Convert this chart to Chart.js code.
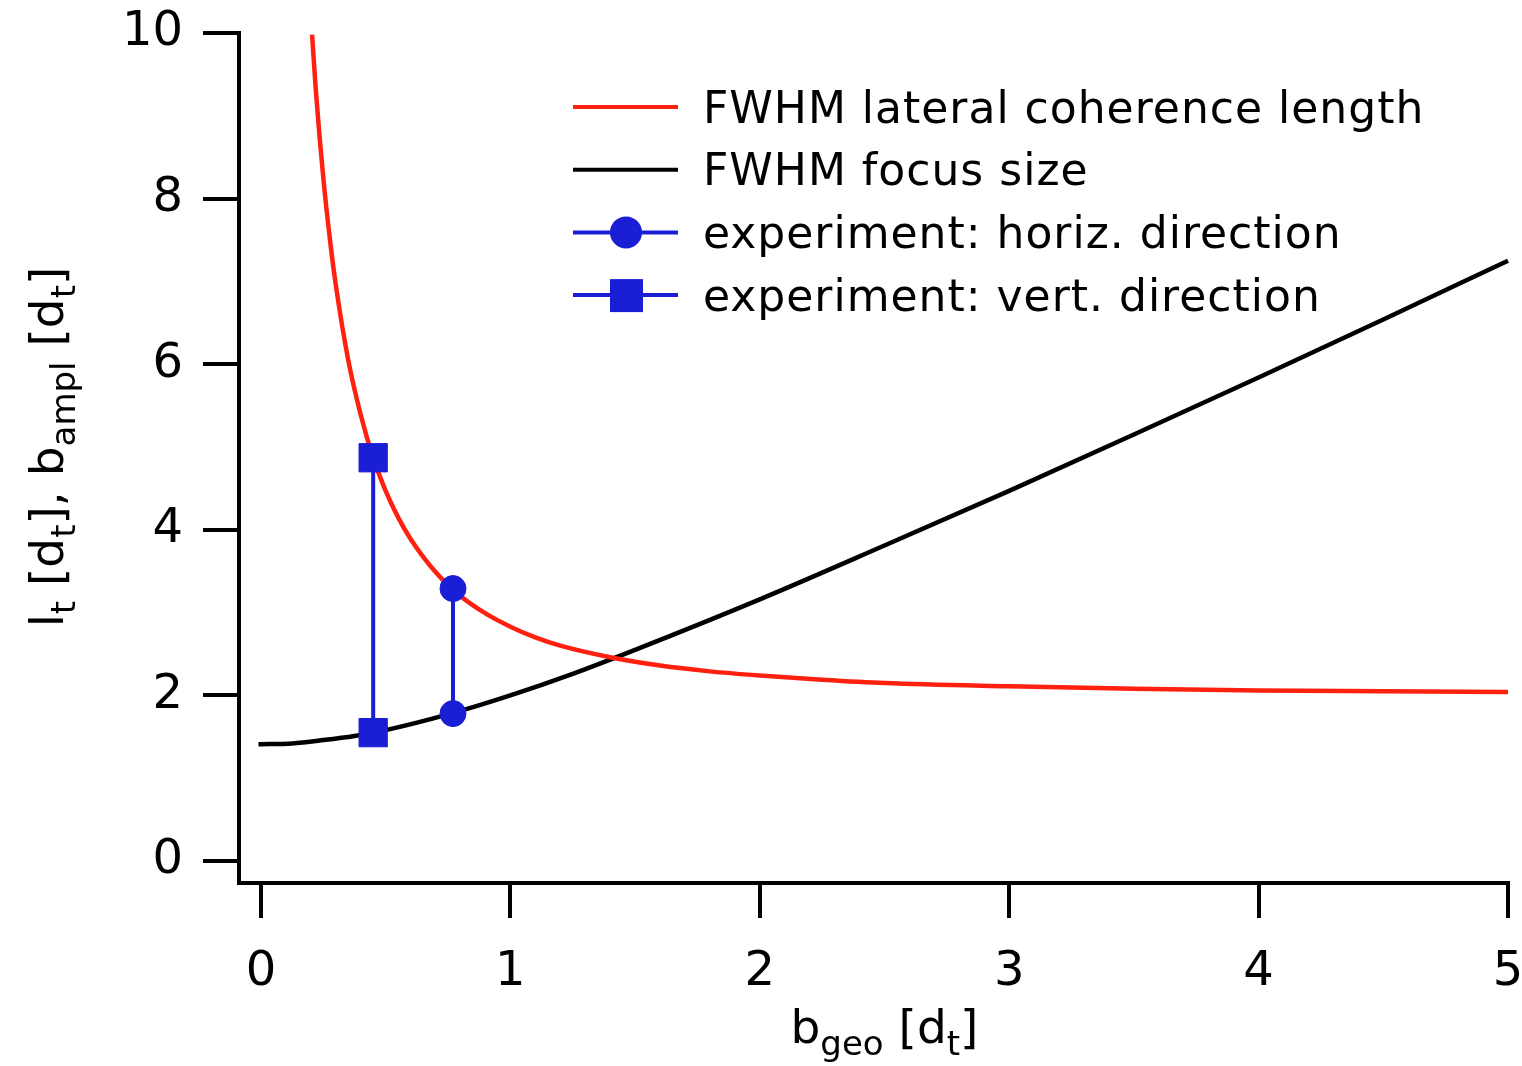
<!DOCTYPE html>
<html>
<head>
<meta charset="utf-8">
<script src="https://cdn.jsdelivr.net/npm/chart.js@4.4.1/dist/chart.umd.min.js"></script>
<style>
  html, body { margin: 0; padding: 0; background: #fff; }
  #wrap { width: 1522px; height: 1066px; }
</style>
</head>
<body>
<div id="wrap"><canvas id="coherenceChart" width="1522" height="1066"></canvas></div>
<script>
// values, everything in units of d_t
const coherenceX = [0.205, 0.22, 0.25, 0.28, 0.3, 0.35, 0.4, 0.45, 0.5, 0.55, 0.6, 0.7, 0.8, 0.9, 1.0, 1.1, 1.2, 1.4, 1.6, 1.8, 2.0, 2.25, 2.5, 3.0, 3.5, 4.0, 4.5, 5.0, 5.03];
const coherenceY = [9.98, 9.31, 8.25, 7.42, 6.96, 6.05, 5.39, 4.87, 4.47, 4.15, 3.89, 3.49, 3.20, 2.99, 2.83, 2.70, 2.60, 2.46, 2.36, 2.29, 2.24, 2.19, 2.15, 2.11, 2.08, 2.06, 2.05, 2.04, 2.04];
const focusX = [-0.01, 0.125, 0.25, 0.375, 0.5, 0.75, 1.0, 1.25, 1.5, 2.0, 2.5, 3.0, 3.5, 4.0, 4.5, 5.0];
const focusY = [1.41, 1.42, 1.46, 1.51, 1.58, 1.77, 2.00, 2.26, 2.55, 3.16, 3.81, 4.47, 5.15, 5.84, 6.54, 7.25];
const horizX = [0.77, 0.77];
const horizY = [3.29, 1.78];
const vertX = [0.45, 0.45];
const vertY = [4.87, 1.55];
const xTicks = [0, 1, 2, 3, 4, 5];
const yTicks = [0, 2, 4, 6, 8, 10];
const seriesLabels = [
    'FWHM lateral coherence length',
    'FWHM focus size',
    'experiment: horiz. direction',
    'experiment: vert. direction'
];

const RED = '#ff2010';
const BLUE = '#1a1fd6';
const FONT = '"DejaVu Sans", sans-serif';

const toPoints = (xs, ys) => xs.map((x, i) => ({ x: x, y: ys[i] }));

// text with subscripts, centred on (cx, baseline)
function drawRich(ctx, parts, cx, baseline) {
    const main = '47px ' + FONT, sub = '34px ' + FONT;
    let total = 0;
    parts.forEach(p => { ctx.font = p[1] ? sub : main; total += ctx.measureText(p[0]).width; });
    let x = cx - total / 2;
    ctx.textAlign = 'left';
    ctx.textBaseline = 'alphabetic';
    parts.forEach(p => {
        ctx.font = p[1] ? sub : main;
        ctx.fillText(p[0], x, baseline + (p[1] ? 12 : 0));
        x += ctx.measureText(p[0]).width;
    });
}

const axisTitles = {
    id: 'axisTitles',
    afterDraw(chart) {
        const ctx = chart.ctx;
        const xs = chart.scales.x, ys = chart.scales.y;
        ctx.save();
        ctx.fillStyle = '#000';
        drawRich(ctx, [['b', 0], ['geo', 1], [' [d', 0], ['t', 1], [']', 0]],
            xs.getPixelForValue(2.5), 1043);
        ctx.translate(63, ys.getPixelForValue(5));
        ctx.rotate(-Math.PI / 2);
        drawRich(ctx, [['l', 0], ['t', 1], [' [d', 0], ['t', 1], ['], b', 0], ['ampl', 1], [' [d', 0], ['t', 1], [']', 0]], 0, 0);
        ctx.restore();
    }
};

// legend sits inside the plot, top right
const legendBox = {
    id: 'legendBox',
    afterDraw(chart) {
        const ctx = chart.ctx;
        ctx.save();
        chart.data.datasets.forEach((ds, i) => {
            const y = 107 + i * 62.7;
            ctx.strokeStyle = ds.borderColor;
            ctx.lineWidth = 4;
            ctx.beginPath();
            ctx.moveTo(573, y);
            ctx.lineTo(678, y);
            ctx.stroke();
            ctx.fillStyle = ds.borderColor;
            if (ds.pointStyle === 'circle') {
                ctx.beginPath();
                ctx.arc(626, y, 16, 0, Math.PI * 2);
                ctx.fill();
            } else if (ds.pointStyle === 'rect') {
                ctx.fillRect(610, y - 16, 33, 33);
            }
            ctx.fillStyle = '#000';
            ctx.font = '44px ' + FONT;
            ctx.letterSpacing = '1px';
            ctx.textAlign = 'left';
            ctx.textBaseline = 'alphabetic';
            ctx.fillText(ds.label, 703, y + 15.5);
        });
        ctx.restore();
    }
};

const noPad = s => { s.paddingTop = 0; s.paddingBottom = 0; s.paddingLeft = 0; s.paddingRight = 0; };

const ctx = document.getElementById('coherenceChart').getContext('2d');
new Chart(ctx, {
    type: 'line',
    data: {
        datasets: [{
            label: seriesLabels[0],
            data: toPoints(coherenceX, coherenceY),
            borderColor: RED,
            borderWidth: 4.5,
            pointRadius: 0,
            cubicInterpolationMode: 'monotone',
            clip: 12,
            order: 2
        }, {
            label: seriesLabels[1],
            data: toPoints(focusX, focusY),
            borderColor: '#000',
            borderWidth: 4.5,
            pointRadius: 0,
            cubicInterpolationMode: 'monotone',
            clip: 12,
            order: 2
        }, {
            label: seriesLabels[2],
            data: toPoints(horizX, horizY),
            borderColor: BLUE,
            backgroundColor: BLUE,
            borderWidth: 4,
            pointStyle: 'circle',
            pointRadius: 13,
            pointBorderWidth: 1,
            order: 1
        }, {
            label: seriesLabels[3],
            data: toPoints(vertX, vertY),
            borderColor: BLUE,
            backgroundColor: BLUE,
            borderWidth: 4,
            pointStyle: 'rect',
            pointRadius: 20,
            pointBorderWidth: 1,
            order: 1
        }]
    },
    options: {
        responsive: false,
        animation: false,
        layout: { autoPadding: false, padding: { top: 33, right: 14, left: 0, bottom: 0 } },
        scales: {
            x: {
                type: 'linear',
                min: -0.088,
                max: 5,
                afterBuildTicks: s => { s.ticks = xTicks.map(v => ({ value: v })); },
                afterFit: s => { s.height = 183; noPad(s); },
                grid: { drawOnChartArea: false, drawTicks: true, tickLength: 35, lineWidth: 4, color: '#000' },
                border: { display: true, color: '#000', width: 4 },
                ticks: { color: '#000', padding: 26, maxRotation: 0, font: { family: FONT, size: 48 } }
            },
            y: {
                type: 'linear',
                min: -0.266,
                max: 10,
                afterBuildTicks: s => { s.ticks = yTicks.map(v => ({ value: v })); },
                afterFit: s => { s.width = 239; noPad(s); },
                grid: { drawOnChartArea: false, drawTicks: true, tickLength: 36, lineWidth: 4, color: '#000' },
                border: { display: true, color: '#000', width: 4 },
                ticks: { color: '#000', padding: 20, font: { family: FONT, size: 48 } }
            }
        },
        plugins: {
            legend: { display: false },
            tooltip: { enabled: false }
        }
    },
    plugins: [axisTitles, legendBox]
});
</script>
</body>
</html>
